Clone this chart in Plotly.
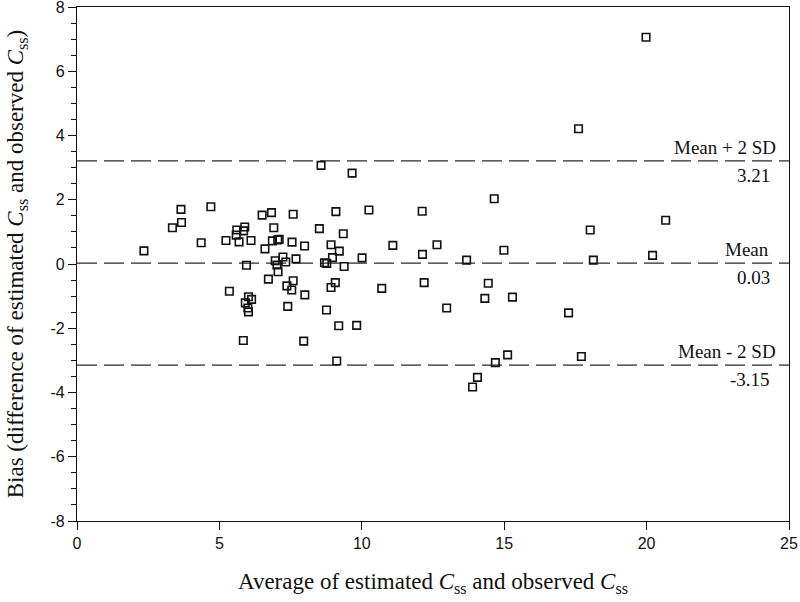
import plotly.graph_objects as go

# Bland-Altman data: average (x) and bias (y)
avg_css = [2.35, 3.35, 3.65, 3.67, 4.36, 4.70, 5.23, 5.35, 5.61, 5.59,
           5.69, 5.85, 5.89, 6.11, 5.95, 5.84, 6.02, 6.13, 5.91, 6.00,
           6.02, 6.50, 6.83, 6.91, 6.86, 7.05, 6.60, 6.96, 7.02, 7.06,
           6.72, 7.10, 7.23, 7.33, 7.55, 7.59, 7.69, 7.59, 7.37, 7.54,
           7.99, 8.00, 7.40, 7.96, 8.51, 8.57, 8.69, 8.77, 8.76, 8.92,
           8.97, 9.09, 9.21, 9.35, 9.38, 8.92, 9.07, 9.19, 9.12, 9.66,
           9.82, 10.01, 10.25, 10.70, 11.09, 12.12, 12.13, 12.19, 12.64, 12.98,
           13.68, 13.89, 14.06, 14.32, 14.44, 14.65, 14.69, 14.99, 15.12, 15.29,
           17.26, 17.61, 17.71, 18.02, 18.13, 19.98, 20.21, 20.67]
bias = [0.41, 1.13, 1.70, 1.29, 0.66, 1.78, 0.73, -0.85, 1.06, 0.90,
        0.69, 1.03, 1.15, 0.73, -0.04, -2.38, -1.02, -1.10, -1.21, -1.37,
        -1.49, 1.52, 1.60, 1.13, 0.72, 0.75, 0.47, 0.10, -0.03, -0.24,
        -0.47, 0.77, 0.22, 0.06, 0.68, 1.55, 0.16, -0.52, -0.68, -0.81,
        0.56, -0.96, -1.32, -2.40, 1.10, 3.07, 0.04, 0.02, -1.43, 0.60,
        0.20, 1.63, 0.40, 0.94, -0.08, -0.73, -0.58, -1.92, -3.02, 2.83,
        -1.91, 0.19, 1.68, -0.76, 0.58, 1.64, 0.30, -0.58, 0.60, -1.37,
        0.12, -3.83, -3.53, -1.07, -0.60, 2.03, -3.07, 0.43, -2.83, -1.03,
        -1.52, 4.21, -2.88, 1.06, 0.12, 7.06, 0.27, 1.36]

x_limits = [0, 25]
y_limits = [-8, 8]
x_tick_vals = [0, 5, 10, 15, 20, 25]
y_tick_vals = [-8, -6, -4, -2, 0, 2, 4, 6, 8]
y_tick_text = ["-8", "-6", "-4", "-2", "0", "2", "4", "6", "8"]
mean_bias = 0.03
upper_loa = 3.21
lower_loa = -3.15
line_labels = ["Mean + 2 SD", "Mean", "Mean - 2 SD"]
line_values = [upper_loa, mean_bias, lower_loa]
value_labels = ["3.21", "0.03", "-3.15"]

serif = "Liberation Serif, Times New Roman, serif"
sans = "Liberation Sans, Arial, sans-serif"

fig = go.Figure()

for v in line_values:
    fig.add_trace(go.Scatter(
        x=x_limits, y=[v, v], mode="lines",
        line=dict(color="#2a2a2a", width=1.3, dash="20px,7px"),
        hoverinfo="skip", showlegend=False))

fig.add_trace(go.Scatter(
    x=avg_css, y=bias, mode="markers",
    marker=dict(symbol="square-open", size=7.5,
                line=dict(color="#111111", width=1.6), color="#111111"),
    showlegend=False))

label_xshift = [0, -7, 0]
for lab, val, vlab, xs in zip(line_labels, line_values, value_labels, label_xshift):
    fig.add_annotation(x=24.61, y=val, xref="x", yref="y", text=lab,
                       showarrow=False, xanchor="right", yanchor="bottom",
                       xshift=xs, yshift=1,
                       font=dict(family=serif, size=19, color="#111111"))
    fig.add_annotation(x=24.4, y=val, xref="x", yref="y", text=vlab,
                       showarrow=False, xanchor="right", yanchor="top",
                       yshift=-2, font=dict(family=serif, size=19, color="#111111"))

fig.update_layout(
    width=800, height=602,
    margin=dict(l=77, r=11, t=7, b=81, autoexpand=False),
    plot_bgcolor="white", paper_bgcolor="white",
    showlegend=False,
)
fig.update_xaxes(
    range=x_limits, tickvals=x_tick_vals, automargin=False,
    ticklabeloverflow="allow",
    showline=True, linecolor="#111111", linewidth=1.3, mirror=True,
    ticks="outside", ticklen=8, tickwidth=1.3, tickcolor="#111111",
    showgrid=False, zeroline=False,
    tickfont=dict(family=sans, size=16, color="#111111"),
    title=dict(text="Average of estimated <i>C</i><sub>ss</sub> and observed <i>C</i><sub>ss</sub>",
               font=dict(family=serif, size=23, color="#111111"), standoff=21),
)
fig.update_yaxes(
    range=y_limits, tickvals=y_tick_vals, ticktext=y_tick_text, automargin=False,
    ticklabeloverflow="allow",
    showline=True, linecolor="#111111", linewidth=1.3, mirror=True,
    ticks="outside", ticklen=8, tickwidth=1.3, tickcolor="#111111",
    minor=dict(dtick=0.5, tick0=0, ticks="outside", ticklen=5, tickwidth=1.2,
               tickcolor="#111111", showgrid=False),
    showgrid=False, zeroline=False,
    tickfont=dict(family=sans, size=16, color="#111111"),
    title=dict(text="Bias (difference of estimated <i>C</i><sub>ss</sub> and observed <i>C</i><sub>ss</sub>)",
               font=dict(family=serif, size=23, color="#111111"), standoff=20),
)

fig.write_html("out.html", config={"displayModeBar": False},
               post_script="document.body.style.margin='0px';")
